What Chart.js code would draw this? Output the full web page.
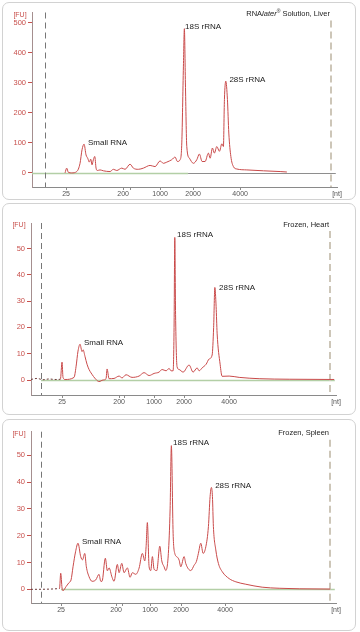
<!DOCTYPE html>
<html>
<head>
<meta charset="utf-8">
<script src="https://cdn.jsdelivr.net/npm/chart.js@4"></script>
<style>
  html, body { margin: 0; padding: 0; background: #fff; }
  body { width: 360px; height: 632px; position: relative; overflow: hidden; }
  .box { position: absolute; left: 2px; width: 354px; border: 1px solid #d2d2d2; border-radius: 7px; box-sizing: border-box; }
  canvas { position: absolute; left: 0; }
</style>
</head>
<body>
<div class="box" style="top:2px;height:198px"></div>
<div class="box" style="top:203px;height:212px"></div>
<div class="box" style="top:419px;height:212px"></div>
<canvas id="liver" width="360" height="200" style="top:0"></canvas>
<canvas id="heart" width="360" height="216" style="top:200px"></canvas>
<canvas id="spleen" width="360" height="216" style="top:416px"></canvas>
<script>
// Electropherograms: migration time (s) against fluorescence (FU)
const sizeLabels = ['25', '200', '', '1000', '2000', '4000', '[nt]'];

// RNAlater Solution, Liver
const liverTime = [23.5, 23.78, 24.05, 24.62, 25.45, 26.0, 26.33, 26.67, 27.0, 27.28, 27.55, 27.78, 28.0, 28.22, 28.45, 28.67, 28.88, 29.33, 29.88, 31.0, 31.55, 32.12, 32.95, 33.5, 34.33, 34.88, 35.72, 36.55, 37.67, 38.5, 39.33, 39.88, 40.45, 41.28, 41.83, 42.22, 42.67, 42.95, 43.22, 43.38, 43.55, 43.78, 44.22, 44.88, 45.45, 45.88, 46.33, 46.83, 47.38, 47.67, 48.05, 48.38, 48.78, 49.22, 49.62, 49.88, 50.05, 50.28, 50.55, 50.78, 51.12, 51.55, 52.12, 53.78, 56.55, 59.33, 60.45];
const liverFU = [0, 16, 2, 0, 4.5, 32, 77, 96, 60, 49, 36, 46, 27, 44, 55, 16, 8, 10, 7, 4.5, 12, 8, 16, 12, 29, 16, 12, 16, 25, 21, 40, 32, 36, 44, 53, 38, 44, 100, 356, 481, 300, 88, 49, 32, 44, 63, 38, 38, 66, 49, 83, 66, 88, 72, 97, 88, 245, 306, 245, 133, 55, 21, 13, 10, 7, 4.5, 3];
const liverSizeTicks = [23.67, 33.17, 34.33, 39.33, 44.83, 52.67, 68.8];
const liverYTicks = [0, 100, 200, 300, 400, 500];

// Frozen, Heart
const heartTime = [18.0, 19.0, 20.0, 21.0, 22.0, 22.9, 23.17, 23.33, 23.67, 25.17, 25.5, 25.83, 26.17, 26.5, 26.67, 27.0, 27.33, 27.67, 28.0, 28.83, 29.33, 30.0, 30.5, 30.67, 31.0, 31.83, 32.67, 33.17, 33.83, 34.83, 36.0, 36.83, 37.67, 38.5, 39.33, 39.83, 40.5, 41.0, 41.33, 41.67, 41.83, 41.95, 42.08, 42.33, 42.67, 43.33, 44.33, 45.0, 45.67, 46.0, 46.5, 47.17, 47.67, 48.17, 48.42, 48.62, 48.83, 49.0, 49.5, 49.83, 51.0, 52.67, 56.0, 61.0, 68.5];
const heartFU = [0.2, 0.6, 0.1, 0.4, 0.2, 0.3, 6.8, 1, 0.2, 1, 5, 11, 13.6, 10.8, 11.5, 8.9, 6, 4, 2.7, 0.2, -0.6, 0, 0.5, 4.2, 0.5, 0.6, 1.5, 0.8, 2, 1, 1.5, 2.8, 1.7, 2.5, 3, 4, 3.5, 4.4, 3.5, 3.5, 20, 54.2, 25, 5, 4, 3, 5.7, 3, 4.6, 3.5, 4.6, 6, 8, 9.5, 20, 35.2, 28, 17.8, 6, 1.4, 1.5, 1, 0.5, 0.3, 0.2];
const heartSizeTicks = [23.17, 32.67, 33.5, 38.5, 43.5, 51.0, 68.8];

// Frozen, Spleen
const spleenTime = [18.0, 22.75, 22.95, 23.17, 23.33, 23.83, 24.33, 24.67, 25.0, 25.42, 25.83, 26.28, 26.58, 26.95, 27.22, 27.67, 28.17, 28.78, 29.33, 29.62, 29.83, 30.38, 30.72, 31.0, 31.5, 31.83, 32.38, 32.67, 33.12, 33.5, 34.05, 34.5, 34.88, 35.45, 36.0, 36.55, 36.95, 37.17, 37.38, 37.67, 37.95, 38.22, 38.5, 38.95, 39.45, 39.78, 40.17, 40.45, 40.88, 41.17, 41.38, 41.67, 41.95, 42.38, 42.67, 42.95, 43.5, 43.78, 44.62, 45.17, 45.55, 45.88, 46.28, 46.67, 47.12, 47.55, 47.83, 48.05, 48.22, 48.38, 48.78, 49.22, 49.88, 51.0, 52.12, 53.78, 56.5, 59.33, 62.67, 67.83];
const spleenFU = [0, 0.3, 6, 0.5, -0.5, 1, 2.5, 3.5, 8.4, 14, 17.2, 12.2, 11, 13.4, 8.4, 4.7, 3, 3.5, 5.6, 3, 3, 11.6, 6.9, 8, 4.5, 3, 9.3, 6.2, 9.7, 6.2, 8, 4.5, 6.2, 5.6, 7.9, 13.4, 10.6, 15.9, 24.9, 8.4, 7, 12.2, 7.5, 7, 16.1, 10.6, 8.4, 7, 13.4, 30, 53.6, 20.9, 13.4, 12, 10.9, 8.4, 12.2, 9.6, 7, 9, 10.4, 13.4, 17.2, 13.4, 15.9, 23.4, 34.6, 38, 34.6, 23.4, 14.7, 9.6, 6.5, 4, 2.8, 1.9, 0.8, 0.4, 0.2, 0.1];
const spleenSizeTicks = [23.0, 32.17, 33.17, 37.83, 43.0, 50.33, 68.8];

const smallYTicks = [0, 10, 20, 30, 40, 50];

const RED = '#c8504c';
const TRACE = '#c94a4a';
const FONT = '"Liberation Sans", Arial, sans-serif';

// baseline, marker lines, peak names and panel title
const decor = {
    id: 'decor',
    beforeDatasetsDraw(chart, args, o) {
        const { ctx, chartArea: a, scales: { x, y } } = chart;
        const y0 = Math.round(y.getPixelForValue(0)) + 0.5;
        ctx.save();
        ctx.lineWidth = 1.5;
        ctx.strokeStyle = '#b3cfa6';
        ctx.beginPath();
        ctx.moveTo(x.getPixelForValue(o.greenFrom), y0);
        ctx.lineTo(x.getPixelForValue(o.greenTo), y0);
        ctx.stroke();
        if (o.greyTo) {
            ctx.lineWidth = 1;
            ctx.strokeStyle = '#8e8e8e';
            ctx.beginPath();
            ctx.moveTo(x.getPixelForValue(o.greenTo), y0);
            ctx.lineTo(x.getPixelForValue(o.greyTo), y0);
            ctx.stroke();
        }
        // lower / upper marker
        let xl = Math.round(x.getPixelForValue(o.lowerMarker)) + 0.5;
        ctx.setLineDash([6, 4]);
        ctx.lineWidth = 1;
        ctx.strokeStyle = '#777';
        ctx.beginPath();
        ctx.moveTo(xl, a.top);
        ctx.lineTo(xl, a.bottom);
        ctx.stroke();
        let xu = Math.round(x.getPixelForValue(o.upperMarker));
        ctx.setLineDash([7, 4]);
        ctx.lineWidth = 2;
        ctx.strokeStyle = '#cdc6b8';
        ctx.beginPath();
        ctx.moveTo(xu, a.top + 8);
        ctx.lineTo(xu, a.bottom);
        ctx.stroke();
        ctx.restore();
    },
    afterDraw(chart, args, o) {
        const { ctx, chartArea: a, scales: { x, y } } = chart;
        ctx.save();
        ctx.textBaseline = 'middle';
        ctx.font = '7px ' + FONT;
        ctx.fillStyle = RED;
        ctx.textAlign = 'center';
        ctx.fillText('[FU]', a.left - 12, a.top + 2.5);

        ctx.fillStyle = '#222';
        ctx.textAlign = 'left';
        ctx.font = '8px ' + FONT;
        o.labels.forEach(l => {
            ctx.fillText(l.text, x.getPixelForValue(l.x), y.getPixelForValue(l.y));
        });

        // title, right aligned, built from styled pieces
        const fontOf = p => (p.italic ? 'italic ' : '') + (p.sup ? '5px ' : '7.5px ') + FONT;
        let w = 0;
        o.title.forEach(p => { ctx.font = fontOf(p); w += ctx.measureText(p.t).width; });
        let tx = a.right - 7 - w;
        const ty = a.top + 1.5;
        o.title.forEach(p => {
            ctx.font = fontOf(p);
            ctx.fillText(p.t, tx, p.sup ? ty - 2 : ty);
            tx += ctx.measureText(p.t).width;
        });
        ctx.restore();
    }
};

function panel(id, time, fu, yTicks, yMin, yMax, sizeTicks, axisW, pad, preEnd, deco) {
    const points = time.map((t, i) => ({ x: t, y: fu[i] }));
    const early = c => c.p1.parsed.x <= preEnd;
    return new Chart(document.getElementById(id), {
        type: 'line',
        data: {
            datasets: [{
                data: points,
                borderColor: TRACE,
                borderWidth: 1,
                pointRadius: 0,
                cubicInterpolationMode: 'monotone',
                segment: {
                    borderColor: c => early(c) ? '#6d3a3a' : undefined,
                    borderDash: c => early(c) ? [2, 2] : undefined
                }
            }]
        },
        options: {
            responsive: false,
            animation: false,
            layout: { padding: pad },
            plugins: { legend: { display: false }, tooltip: { enabled: false }, decor: deco },
            scales: {
                x: {
                    type: 'linear',
                    min: 18,
                    max: 68.8,
                    afterBuildTicks: s => { s.ticks = sizeTicks.map(v => ({ value: v })); },
                    afterFit: s => { s.height = 13; },
                    ticks: {
                        callback: (v, i) => sizeLabels[i],
                        autoSkip: false,
                        maxRotation: 0,
                        padding: 0,
                        color: '#555',
                        font: { family: FONT, size: 7 }
                    },
                    grid: {
                        drawOnChartArea: false,
                        tickLength: 3,
                        color: c => c.index === sizeLabels.length - 1 ? 'rgba(0,0,0,0)' : '#8a8a8a'
                    },
                    border: { color: '#8a8a8a' }
                },
                y: {
                    min: yMin,
                    max: yMax,
                    afterBuildTicks: s => { s.ticks = yTicks.map(v => ({ value: v })); },
                    afterFit: s => { s.width = axisW; },
                    ticks: { color: RED, padding: 2, font: { family: FONT, size: 7.5 } },
                    grid: { drawOnChartArea: false, tickLength: 4, color: RED },
                    border: { color: '#a58f8f' }
                }
            }
        },
        plugins: [decor]
    });
}

panel('liver', liverTime, liverFU, liverYTicks, -47, 535, liverSizeTicks, 32,
    { top: 12.5, right: 23, bottom: 0, left: 0 }, 0, {
        greenFrom: 18, greenTo: 44.0, greyTo: 68.6,
        lowerMarker: 20.17, upperMarker: 67.83,
        labels: [
            { text: 'Small RNA', x: 27.33, y: 101 },
            { text: '18S rRNA', x: 43.5, y: 488 },
            { text: '28S rRNA', x: 50.88, y: 310 }
        ],
        title: [{ t: 'RNA' }, { t: 'later', italic: true }, { t: '®', sup: true }, { t: ' Solution, Liver' }]
    });

panel('heart', heartTime, heartFU, smallYTicks, -5.7, 59.7, heartSizeTicks, 31,
    { top: 23, right: 24, bottom: 8, left: 0 }, 22.9, {
        greenFrom: 19.67, greenTo: 68.6,
        lowerMarker: 19.67, upperMarker: 67.83,
        labels: [
            { text: 'Small RNA', x: 26.83, y: 14 },
            { text: '18S rRNA', x: 42.33, y: 55.4 },
            { text: '28S rRNA', x: 49.33, y: 35.2 }
        ],
        title: [{ t: 'Frozen, Heart' }]
    });

panel('spleen', spleenTime, spleenFU, smallYTicks, -5.1, 58.8, spleenSizeTicks, 31,
    { top: 15.7, right: 24, bottom: 16, left: 0 }, 22.75, {
        greenFrom: 23.0, greenTo: 68.6,
        lowerMarker: 19.67, upperMarker: 67.83,
        labels: [
            { text: 'Small RNA', x: 26.5, y: 17.8 },
            { text: '18S rRNA', x: 41.67, y: 54.5 },
            { text: '28S rRNA', x: 48.67, y: 38.7 }
        ],
        title: [{ t: 'Frozen, Spleen' }]
    });
</script>
</body>
</html>
